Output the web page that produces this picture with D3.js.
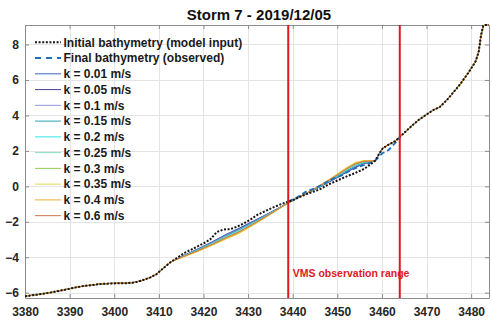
<!DOCTYPE html>
<html>
<head>
<meta charset="utf-8">
<script src="https://cdn.jsdelivr.net/npm/d3@7"></script>
<style>
  html, body { margin: 0; padding: 0; background: #fff; }
  svg { display: block; font-family: "Liberation Sans", Arial, sans-serif; }
</style>
</head>
<body>
<svg id="chart" width="492" height="324"></svg>
<script>
// Cross-shore distance (m) and bed elevation (m) of the initial profile
const initialX = [3380, 3383, 3386, 3389, 3391, 3393, 3395, 3397, 3399, 3401, 3403, 3404.5, 3406, 3408,
  3409.5, 3411, 3412.5, 3414, 3416, 3418, 3420, 3421.5, 3423, 3424.5, 3426, 3427.5, 3429, 3430.5, 3432,
  3434, 3436, 3438, 3440, 3442, 3444, 3446, 3448, 3450, 3452, 3454, 3456, 3457.5, 3458.5, 3459.3, 3460.2,
  3461.5, 3463, 3464, 3466, 3468, 3470, 3471.5, 3473, 3474.5, 3476, 3477.5, 3479.5, 3481, 3481.7, 3482.2,
  3482.7, 3483, 3484];
const initialZ = [-6.2, -6.1, -5.98, -5.83, -5.72, -5.63, -5.57, -5.51, -5.48, -5.47, -5.46, -5.42, -5.33, -5.15,
  -4.95, -4.62, -4.3, -4.05, -3.72, -3.48, -3.22, -3.0, -2.58, -2.43, -2.42, -2.28, -2.1, -1.88, -1.62,
  -1.38, -1.15, -0.95, -0.78, -0.55, -0.36, -0.18, 0.1, 0.33, 0.55, 0.75, 0.98, 1.25, 1.45, 1.8, 2.15,
  2.35, 2.55, 2.78, 3.25, 3.7, 4.05, 4.3, 4.48, 4.85, 5.3, 5.75, 6.45, 7.05, 7.6, 8.5,
  9.05, 9.1, 9.1];

// Observed final profile inside the VMS range
const finalX = [3439, 3441, 3443, 3445, 3447, 3449, 3451, 3453, 3455, 3457, 3458.5, 3460, 3461.5, 3463, 3464];
const finalZ = [-0.86, -0.62, -0.3, -0.1, 0.15, 0.42, 0.62, 0.9, 1.12, 1.28, 1.45, 1.85, 2.05, 2.45, 2.75];

// Modelled profiles: they depart from the initial profile only within this stretch
const modelX = [3413, 3416, 3419, 3422, 3425, 3428, 3431, 3434, 3437, 3440, 3443, 3446, 3449, 3452, 3454, 3456, 3457.5, 3458.5];
const kLabels = ["k = 0.01 m/s", "k = 0.05 m/s", "k = 0.1 m/s", "k = 0.15 m/s", "k = 0.2 m/s",
  "k = 0.25 m/s", "k = 0.3 m/s", "k = 0.35 m/s", "k = 0.4 m/s", "k = 0.6 m/s"];
const kColors = ["#3f63c4", "#4a3f8c", "#8f94d6", "#2aa3b3", "#2ee6e6",
  "#86e0c2", "#8fd04a", "#e3d84c", "#f0ac34", "#cf7446"];
const model_k001 = [-4.22, -3.85, -3.5, -3.12, -2.72, -2.36, -1.98, -1.6, -1.2, -0.8, -0.42, -0.05, 0.35, 0.78, 1.05, 1.28, 1.36, 1.45];
const model_k005 = [-4.22, -3.86, -3.52, -3.14, -2.75, -2.39, -2.0, -1.62, -1.21, -0.8, -0.42, -0.04, 0.37, 0.81, 1.08, 1.3, 1.37, 1.45];
const model_k010 = [-4.22, -3.87, -3.53, -3.16, -2.77, -2.42, -2.03, -1.63, -1.21, -0.8, -0.41, -0.03, 0.39, 0.83, 1.11, 1.32, 1.38, 1.45];
const model_k015 = [-4.22, -3.88, -3.55, -3.19, -2.81, -2.46, -2.06, -1.65, -1.22, -0.8, -0.41, -0.02, 0.41, 0.87, 1.15, 1.34, 1.39, 1.45];
const model_k020 = [-4.22, -3.89, -3.57, -3.22, -2.85, -2.5, -2.09, -1.67, -1.23, -0.8, -0.41, -0.01, 0.43, 0.91, 1.19, 1.36, 1.4, 1.45];
const model_k025 = [-4.22, -3.9, -3.59, -3.25, -2.88, -2.54, -2.12, -1.69, -1.24, -0.8, -0.4, 0.0, 0.46, 0.94, 1.23, 1.39, 1.41, 1.45];
const model_k030 = [-4.22, -3.92, -3.62, -3.29, -2.94, -2.6, -2.17, -1.72, -1.25, -0.8, -0.4, 0.02, 0.49, 1.0, 1.29, 1.42, 1.43, 1.45];
const model_k035 = [-4.22, -3.94, -3.65, -3.33, -2.99, -2.66, -2.22, -1.75, -1.26, -0.8, -0.39, 0.04, 0.53, 1.05, 1.35, 1.46, 1.45, 1.45];
const model_k040 = [-4.22, -3.93, -3.63, -3.3, -2.95, -2.62, -2.19, -1.73, -1.25, -0.8, -0.39, 0.03, 0.51, 1.01, 1.31, 1.44, 1.44, 1.45];
const model_k060 = [-4.22, -3.91, -3.6, -3.26, -2.9, -2.56, -2.14, -1.7, -1.24, -0.8, -0.4, 0.01, 0.47, 0.96, 1.25, 1.4, 1.42, 1.45];
const modelZ = [model_k001, model_k005, model_k010, model_k015, model_k020,
  model_k025, model_k030, model_k035, model_k040, model_k060];

// VMS observation range limits and axis ticks
const vmsRange = [3439, 3464];
const xTicks = [3380, 3390, 3400, 3410, 3420, 3430, 3440, 3450, 3460, 3470, 3480];
const yTicks = [-6, -4, -2, 0, 2, 4, 6, 8];

const svg = d3.select("#chart");
const m = { left: 25, right: 3, top: 25, bottom: 26 };
const W = 492, H = 324;
const x = d3.scaleLinear().domain([3380, 3484]).range([m.left, W - m.right]);
const y = d3.scaleLinear().domain([-6.3, 9.1]).range([H - m.bottom, m.top]);

// grid
const grid = svg.append("g").attr("stroke", "#e4e4e4").attr("stroke-width", 1);
grid.selectAll("line.vx").data(xTicks).join("line")
  .attr("x1", d => Math.round(x(d)) + 0.5).attr("x2", d => Math.round(x(d)) + 0.5)
  .attr("y1", m.top).attr("y2", H - m.bottom);
grid.selectAll("line.hy").data(yTicks).join("line")
  .attr("y1", d => Math.round(y(d)) + 0.5).attr("y2", d => Math.round(y(d)) + 0.5)
  .attr("x1", m.left).attr("x2", W - m.right);

// axes with inward ticks
const axisColor = "#8c8c8c";
const gx = svg.append("g").attr("transform", `translate(0,${H - m.bottom})`)
  .call(d3.axisBottom(x).tickValues(xTicks).tickSizeInner(-4).tickSizeOuter(0).tickPadding(9).tickFormat(d3.format("d")));
const gy = svg.append("g").attr("transform", `translate(${m.left},0)`)
  .call(d3.axisLeft(y).tickValues(yTicks).tickSizeInner(-4).tickSizeOuter(0).tickPadding(6).tickFormat(d3.format("d")));
const gxTop = svg.append("g").attr("transform", `translate(0,${m.top})`)
  .call(d3.axisTop(x).tickValues(xTicks).tickSizeInner(-4).tickSizeOuter(0).tickFormat(""));
const gyRight = svg.append("g").attr("transform", `translate(${W - m.right},0)`)
  .call(d3.axisRight(y).tickValues(yTicks).tickSizeInner(-4).tickSizeOuter(0).tickFormat(""));
[gx, gy, gxTop, gyRight].forEach(g => {
  g.select(".domain").attr("stroke", axisColor);
  g.selectAll(".tick line").attr("stroke", axisColor);
  g.selectAll(".tick text").attr("fill", "#262626").attr("font-size", 12).attr("font-weight", "bold")
    .attr("font-family", "'Liberation Sans', Arial, sans-serif");
});

const line = d3.line().x(d => x(d[0])).y(d => y(d[1]));
const plot = svg.append("g");

// modelled profiles (initial profile outside the active stretch)
const pairs = (xs, zs) => xs.map((v, i) => [v, zs[i]]);
const initialPts = pairs(initialX, initialZ);
const lo = modelX[0], hi = modelX[modelX.length - 1];
modelZ.forEach((zs, i) => {
  const pts = initialPts.filter(p => p[0] < lo)
    .concat(pairs(modelX, zs))
    .concat(initialPts.filter(p => p[0] > hi));
  plot.append("path").attr("d", line(pts)).attr("fill", "none")
    .attr("stroke", kColors[i]).attr("stroke-width", 1);
});

// observed final profile
plot.append("path").attr("d", line(pairs(finalX, finalZ))).attr("fill", "none")
  .attr("stroke", "#1f6fb8").attr("stroke-width", 1.8).attr("stroke-dasharray", "5 3");

// initial profile
plot.append("path").attr("d", line(initialPts)).attr("fill", "none")
  .attr("stroke", "#141414").attr("stroke-width", 2).attr("stroke-dasharray", "2 1.6");

// VMS range limits
svg.selectAll("line.vms").data(vmsRange).join("line")
  .attr("x1", d => x(d)).attr("x2", d => x(d))
  .attr("y1", m.top).attr("y2", H - m.bottom)
  .attr("stroke", "#e0191e").attr("stroke-width", 2);
svg.append("text").attr("x", x(vmsRange[0]) + 4.5).attr("y", 277)
  .attr("fill", "#e0191e").attr("font-size", 10.5).attr("font-weight", "bold")
  .text("VMS observation range");

// title
svg.append("text").attr("x", 259).attr("y", 20).attr("text-anchor", "middle")
  .attr("font-size", 15).attr("font-weight", "bold").attr("fill", "#111")
  .text("Storm 7 - 2019/12/05");

// legend
const legendItems = [
  { label: "Initial bathymetry (model input)", color: "#141414", dash: "2 1.6", width: 2 },
  { label: "Final bathymetry (observed)", color: "#1f6fb8", dash: "6 5", width: 2 }
].concat(kLabels.map((l, i) => ({ label: l, color: kColors[i], dash: null, width: 1 })));
const lg = svg.append("g");
legendItems.forEach((d, i) => {
  const yy = 42.3 + i * 15.76;
  lg.append("line").attr("x1", 35).attr("x2", 61).attr("y1", yy).attr("y2", yy)
    .attr("stroke", d.color).attr("stroke-width", d.width)
    .attr("stroke-dasharray", d.dash);
  lg.append("text").attr("x", 63.5).attr("y", yy + 4.3)
    .attr("font-size", 12).attr("font-weight", "bold").attr("fill", "#1a1a1a")
    .text(d.label);
});
</script>
</body>
</html>
